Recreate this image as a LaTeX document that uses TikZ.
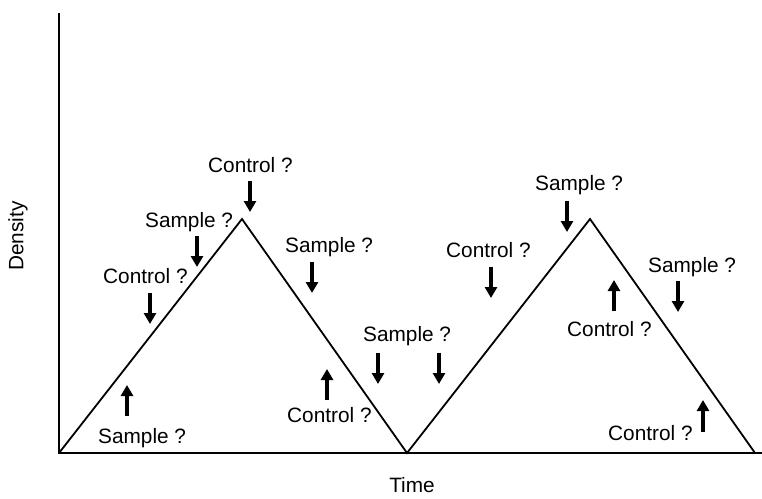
\documentclass[tikz,border=0pt]{standalone}
\usepackage{fontspec}
\setmainfont{Liberation Sans}
\usetikzlibrary{arrows.meta}
\begin{document}
\begin{tikzpicture}[x=1pt,y=-1pt,
  lbl/.style={anchor=base west,inner sep=0pt,font=\fontsize{20.8}{24}\selectfont},
  axis/.style={line width=2pt},
  curve/.style={line width=1.8pt,line join=miter},
  hint/.style={line width=4pt,-{Triangle[width=12pt,length=11pt]}}]
\useasboundingbox (0,0) rectangle (762,498);

% axes
\coordinate (origin) at (59,453);
\coordinate (ytop) at (59,13);
\coordinate (xend) at (762,453);
\draw[axis] (ytop) -- (origin) -- (xend);

% density profile: two triangular cycles
\coordinate (p0) at (59,453);
\coordinate (p1) at (242,219);
\coordinate (p2) at (407,453);
\coordinate (p3) at (590,219);
\coordinate (p4) at (755,453);
\draw[curve] (p0) -- (p1) -- (p2) -- (p3) -- (p4);

% axis titles
\node[inner sep=0pt,rotate=90,font=\fontsize{20.8}{24}\selectfont] (ylab) at (18,236) {Density};
\node[anchor=base,inner sep=0pt,font=\fontsize{20.8}{24}\selectfont] (xlab) at (412,492) {Time};

% labels
\node[lbl] (c1) at (208,172) {Control ?};
\node[lbl] (s1) at (145,227) {Sample ?};
\node[lbl] (c2) at (103,283) {Control ?};
\node[lbl] (s2) at (98,443) {Sample ?};
\node[lbl] (s3) at (285,252) {Sample ?};
\node[lbl] (c3) at (287,422) {Control ?};
\node[lbl] (s4) at (363,341) {Sample ?};
\node[lbl] (c4) at (446,257) {Control ?};
\node[lbl] (s5) at (535,190) {Sample ?};
\node[lbl] (s6) at (648,272) {Sample ?};
\node[lbl] (c5) at (567,336) {Control ?};
\node[lbl] (c6) at (608,440) {Control ?};

% arrow end points
\coordinate (a1s) at (250,181);  \coordinate (a1e) at (250,212);
\coordinate (a2s) at (197,236);  \coordinate (a2e) at (197,267);
\coordinate (a3s) at (150,293);  \coordinate (a3e) at (150,324);
\coordinate (a4s) at (127,416);  \coordinate (a4e) at (127,385);
\coordinate (a5s) at (312,262);  \coordinate (a5e) at (312,293);
\coordinate (a6s) at (327,400);  \coordinate (a6e) at (327,369);
\coordinate (a7s) at (378,353);  \coordinate (a7e) at (378,384);
\coordinate (a8s) at (439,353);  \coordinate (a8e) at (439,384);
\coordinate (a9s) at (491,267);  \coordinate (a9e) at (491,298);
\coordinate (a10s) at (567,201); \coordinate (a10e) at (567,232);
\coordinate (a11s) at (678,281); \coordinate (a11e) at (678,312);
\coordinate (a12s) at (614,311); \coordinate (a12e) at (614,280);
\coordinate (a13s) at (703,432); \coordinate (a13e) at (703,400);

\foreach \i in {1,...,13} {
  \draw[hint] (a\i s) -- (a\i e);
}
\end{tikzpicture}
\end{document}
